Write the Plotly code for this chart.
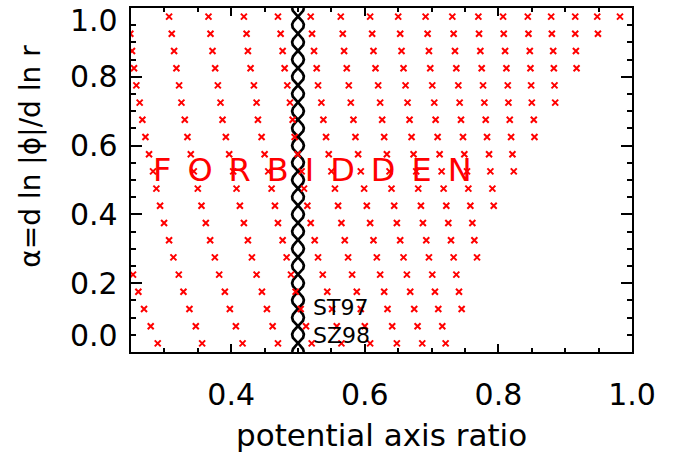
import numpy as np
import plotly.graph_objects as go

# ---- data ----
# rows of the "forbidden" grid (alpha values) and the potential axis ratios in each row
alpha_rows = [0.975, 0.925, 0.875, 0.825, 0.775, 0.725, 0.675, 0.625, 0.575, 0.525,
              0.475, 0.425, 0.375, 0.325, 0.275, 0.225, 0.175, 0.125, 0.075, 0.025]

q_a975 = [0.307, 0.366, 0.419, 0.470, 0.519, 0.564, 0.608, 0.650, 0.691, 0.731, 0.770, 0.807, 0.844, 0.879, 0.915, 0.948, 0.982]
q_a925 = [0.249, 0.311, 0.369, 0.423, 0.474, 0.521, 0.567, 0.611, 0.653, 0.694, 0.733, 0.771, 0.808, 0.845, 0.880, 0.915, 0.949]
q_a875 = [0.2515, 0.3145, 0.372, 0.425, 0.477, 0.524, 0.569, 0.613, 0.655, 0.696, 0.735, 0.773, 0.810, 0.847, 0.882, 0.916]
q_a825 = [0.2545, 0.318, 0.376, 0.429, 0.480, 0.528, 0.573, 0.616, 0.658, 0.698, 0.737, 0.775, 0.812, 0.848, 0.883, 0.917]
q_a775 = [0.258, 0.322, 0.380, 0.434, 0.484, 0.530, 0.576, 0.620, 0.661, 0.701, 0.740, 0.777, 0.814, 0.849, 0.884]
q_a725 = [0.263, 0.3255, 0.384, 0.438, 0.488, 0.535, 0.579, 0.623, 0.664, 0.704, 0.742, 0.779, 0.815, 0.850, 0.885]
q_a675 = [0.267, 0.3305, 0.387, 0.440, 0.492, 0.538, 0.583, 0.626, 0.667, 0.706, 0.744, 0.781, 0.817, 0.853]
q_a625 = [0.2716, 0.3345, 0.392, 0.4455, 0.495, 0.542, 0.586, 0.629, 0.670, 0.709, 0.747, 0.783, 0.819, 0.854]
q_a575 = [0.277, 0.3395, 0.397, 0.450, 0.4995, 0.546, 0.590, 0.633, 0.673, 0.712, 0.749, 0.786, 0.821]
q_a525 = [0.283, 0.344, 0.403, 0.4555, 0.5055, 0.550, 0.594, 0.637, 0.677, 0.715, 0.753, 0.788, 0.823]
q_a475 = [0.288, 0.350, 0.408, 0.4605, 0.509, 0.5553, 0.599, 0.640, 0.680, 0.718, 0.755, 0.791]
q_a425 = [0.2935, 0.3555, 0.413, 0.4655, 0.514, 0.560, 0.603, 0.644, 0.684, 0.722, 0.758, 0.793]
q_a375 = [0.2995, 0.362, 0.419, 0.470, 0.519, 0.565, 0.608, 0.648, 0.687, 0.725, 0.761]
q_a325 = [0.307, 0.3685, 0.425, 0.477, 0.525, 0.570, 0.613, 0.653, 0.692, 0.729, 0.764]
q_a275 = [0.3135, 0.3755, 0.431, 0.483, 0.530, 0.575, 0.618, 0.658, 0.696, 0.733, 0.768]
q_a225 = [0.253, 0.3215, 0.382, 0.438, 0.4895, 0.537, 0.581, 0.623, 0.663, 0.701, 0.737]
q_a175 = [0.261, 0.3285, 0.3905, 0.446, 0.4965, 0.5438, 0.588, 0.629, 0.668, 0.705, 0.741]
q_a125 = [0.2695, 0.3375, 0.398, 0.4535, 0.504, 0.551, 0.594, 0.634, 0.674, 0.710, 0.745]
q_a075 = [0.2795, 0.347, 0.407, 0.462, 0.512, 0.558, 0.600, 0.641, 0.679, 0.716]
q_a025 = [0.290, 0.3565, 0.417, 0.470, 0.5205, 0.565, 0.608, 0.648, 0.686, 0.721]

# ST97 / SZ98 result: potential axis ratio 0.5 for all alpha
st97_q = 0.5
st97_alpha = [0.0, 1.0]

x_tickvals = [0.4, 0.6, 0.8, 1.0]
x_ticktext = ["0.4", "0.6", "0.8", "1.0"]
y_tickvals = [0.0, 0.2, 0.4, 0.6, 0.8, 1.0]
y_ticktext = ["0.0", "0.2", "0.4", "0.6", "0.8", "1.0"]

# ---- build ----
rows_q = [q_a975, q_a925, q_a875, q_a825, q_a775, q_a725, q_a675, q_a625, q_a575, q_a525,
          q_a475, q_a425, q_a375, q_a325, q_a275, q_a225, q_a175, q_a125, q_a075, q_a025]
fx, fy = [], []
for a, qs in zip(alpha_rows, rows_q):
    fx.extend(qs)
    fy.extend([a] * len(qs))

FONT = "DejaVu Sans"
fig = go.Figure()

# twisted-rope line style for the ST97 line (style: amplitude and number of twists)
rope_amp = 0.0088
rope_twists = 20
ya = np.linspace(st97_alpha[0], st97_alpha[1], 1601)
phase = np.cos(rope_twists * np.pi * (ya - st97_alpha[0]) / (st97_alpha[1] - st97_alpha[0]))
for sgn in (1, -1):
    fig.add_trace(go.Scatter(x=st97_q + sgn * rope_amp * phase, y=ya, mode="lines",
                             line=dict(color="black", width=2.7), hoverinfo="skip",
                             showlegend=False))

fig.add_trace(go.Scatter(x=fx, y=fy, mode="markers",
                         marker=dict(symbol="x-thin", size=6, color="red",
                                     line=dict(color="red", width=2)),
                         showlegend=False, cliponaxis=True))

axis_common = dict(showgrid=False, zeroline=False, linecolor="black", linewidth=2,
                   mirror="allticks", ticks="inside", tickcolor="black", tickwidth=2)

fig.update_xaxes(range=[0.25, 1.0], tickvals=x_tickvals, ticktext=x_ticktext,
                 ticklen=8, ticklabelstandoff=15,
                 tickfont=dict(family=FONT, size=30, color="black"),
                 minor=dict(tickmode="linear", tick0=0, dtick=0.05, ticks="inside",
                            ticklen=4, tickwidth=2, tickcolor="black"),
                 **axis_common)
fig.update_yaxes(range=[0.0, 1.0], tickvals=y_tickvals, showticklabels=False,
                 ticklen=11,
                 minor=dict(tickmode="linear", tick0=0, dtick=0.05, ticks="inside",
                            ticklen=5, tickwidth=2, tickcolor="black"),
                 **axis_common)

ann = []
# y tick labels (end labels pulled inward as in the reference)
for v, t in zip(y_tickvals, y_ticktext):
    shift = 0
    if v == y_tickvals[0]:
        shift = 17
    elif v == y_tickvals[-1]:
        shift = -12
    ann.append(dict(x=0, xref="paper", y=v, yref="y", text=t, showarrow=False,
                    xanchor="right", yanchor="middle", xshift=-11, yshift=shift,
                    font=dict(family=FONT, size=30, color="black")))
# axis titles
ann.append(dict(x=0.5, xref="paper", y=-0.24, yref="paper", text="potential axis ratio",
                showarrow=False, xanchor="center", yanchor="middle",
                font=dict(family=FONT, size=31, color="black")))
ann.append(dict(x=-0.2, xref="paper", y=0.57, yref="paper", text="α=d ln |ϕ|/d ln r",
                textangle=-90, showarrow=False, xanchor="center", yanchor="middle",
                font=dict(family=FONT, size=28, color="black")))
# labels in the plot
ann.append(dict(x=0.522, y=0.529, xref="x", yref="y", text="\u2002".join("FORBIDDEN"),
                showarrow=False, xanchor="center", yanchor="middle",
                font=dict(family=FONT, size=32, color="red")))
ann.append(dict(x=0.519, y=0.128, xref="x", yref="y", text="ST97", showarrow=False,
                xanchor="left", yanchor="middle", font=dict(family=FONT, size=22, color="black")))
ann.append(dict(x=0.519, y=0.048, xref="x", yref="y", text="SZ98", showarrow=False,
                xanchor="left", yanchor="middle", font=dict(family=FONT, size=22, color="black")))

fig.update_layout(width=677, height=453, margin=dict(l=131, r=45, t=6, b=101),
                  paper_bgcolor="white", plot_bgcolor="white", annotations=ann,
                  font=dict(family=FONT, color="black"))

fig.write_html("out.html", config={"displayModeBar": False},
               post_script="document.body.style.margin='0px';document.body.style.padding='0px';")
